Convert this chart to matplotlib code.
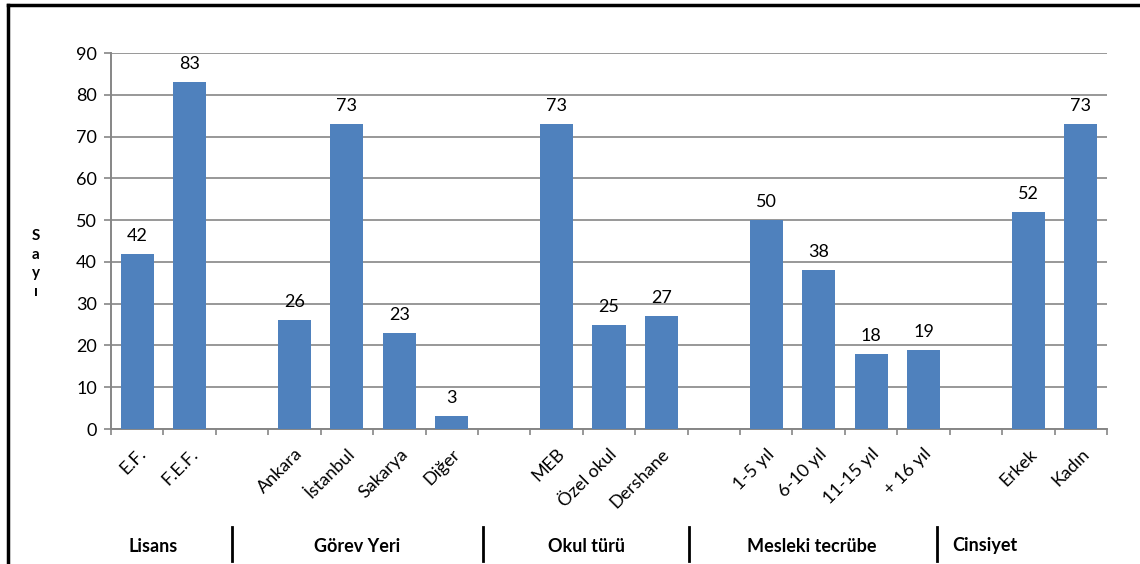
import matplotlib
matplotlib.use("Agg")
import matplotlib.pyplot as plt
import numpy as np
from matplotlib.lines import Line2D

plt.rcParams['font.family'] = ['Lato', 'DejaVu Sans']

# data
group_names = ["Lisans", "Görev Yeri", "Okul türü", "Mesleki tecrübe", "Cinsiyet"]
lisans_labels = ["E.F.", "F.E.F."]
lisans_values = [42, 83]
gorev_labels = ["Ankara", "İstanbul", "Sakarya", "Diğer"]
gorev_values = [26, 73, 23, 3]
okul_labels = ["MEB", "Özel okul", "Dershane"]
okul_values = [73, 25, 27]
tecrube_labels = ["1-5 yıl", "6-10 yıl", "11-15 yıl", "+ 16 yıl"]
tecrube_values = [50, 38, 18, 19]
cinsiyet_labels = ["Erkek", "Kadın"]
cinsiyet_values = [52, 73]

groups = [(lisans_labels, lisans_values), (gorev_labels, gorev_values),
          (okul_labels, okul_values), (tecrube_labels, tecrube_values),
          (cinsiyet_labels, cinsiyet_values)]

# one empty slot between groups
labels, values, pos = [], [], []
slot = 0
for gl, gv in groups:
    for l, v in zip(gl, gv):
        labels.append(l)
        values.append(v)
        pos.append(slot)
        slot += 1
    slot += 1
n_slots = slot - 1

W, H = 1140, 564
fig = plt.figure(figsize=(11.4, 5.64), dpi=100)
ax = fig.add_axes([111 / W, 1 - 429 / H, 996 / W, 376 / H])

bar_color = "#4F81BD"
ax.bar(pos, values, width=0.63, color=bar_color, zorder=3)
for p, v in zip(pos, values):
    ax.text(p, v + 2.4, str(v), ha="center", va="bottom", fontsize=13)

ax.set_xlim(-0.5, n_slots - 0.5)
ax.set_ylim(0, 90)
ax.set_yticks(np.arange(0, 91, 10))
ax.yaxis.grid(True, color="#868686", linewidth=1.2, zorder=0)

# ticks at slot boundaries, labels at bar centres
ax.set_xticks(np.arange(-0.5, n_slots, 1))
ax.set_xticklabels([])
ax.set_xticks(pos, minor=True)
ax.set_xticklabels(labels, minor=True, rotation=45, ha="right", va="top",
                   rotation_mode="anchor", fontsize=13)
ax.tick_params(axis="x", which="minor", length=0, pad=12)
ax.tick_params(axis="x", which="major", length=4.5, color="#868686", width=1.2)
ax.tick_params(axis="y", length=5, color="#868686", width=1.2, labelsize=13, pad=5)

for s in ["top", "right"]:
    ax.spines[s].set_visible(False)
for s in ["left", "bottom"]:
    ax.spines[s].set_color("#868686")
    ax.spines[s].set_linewidth(1.4)

fig.text(36 / W, 1 - 264 / H, "S\na\ny\nı", ha="center", va="center",
         fontsize=11, fontweight="bold", linespacing=1.45)

# group captions below the chart
label_x = [153, 357, 586, 812, 985]
for name, x in zip(group_names, label_x):
    fig.text(x / W, 1 - 546 / H, name, ha="center", va="center",
             fontsize=13, fontweight="bold")
for x in [232, 483, 689, 937]:
    fig.add_artist(Line2D([x / W, x / W], [1 - 527 / H, 1 - 561 / H],
                          color="black", linewidth=2))

# outer frame (runs off the right and bottom edges)
fig.add_artist(Line2D([8 / W, 1.01], [1 - 5 / H, 1 - 5 / H], color="black", linewidth=2.5))
fig.add_artist(Line2D([8 / W, 8 / W], [1 - 5 / H, -0.01], color="black", linewidth=2.5))

fig.savefig("out.png", dpi=100)
